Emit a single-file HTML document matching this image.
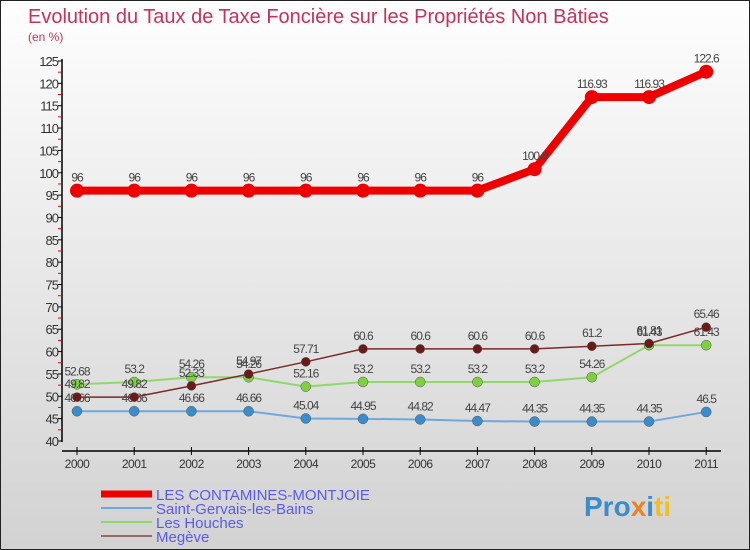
<!DOCTYPE html>
<html><head><meta charset="utf-8"><style>
body{margin:0;}
#c{width:750px;height:550px;position:relative;background:linear-gradient(#fefefe,#d2d2d2);border:1px solid #222;box-sizing:border-box;overflow:hidden;font-family:"Liberation Sans",sans-serif;}
</style></head><body>
<div id="c">
<svg id="s" width="750" height="550"></svg>
</div>
<script>
const years=["2000","2001","2002","2003","2004","2005","2006","2007","2008","2009","2010","2011"];
const contamines=[96,96,96,96,96,96,96,96,100.8,116.93,116.93,122.6];
const stgervais=[46.66,46.66,46.66,46.66,45.04,44.95,44.82,44.47,44.35,44.35,44.35,46.5];
const houches=[52.68,53.2,54.26,54.26,52.16,53.2,53.2,53.2,53.2,54.26,61.43,61.43];
const megeve=[49.82,49.82,52.33,54.97,57.71,60.6,60.6,60.6,60.6,61.2,61.81,65.46];
const yTicks=[40,45,50,55,60,65,70,75,80,85,90,95,100,105,110,115,120,125];
const NS="http://www.w3.org/2000/svg";
const svg=document.getElementById('s');
const X=i=>76+i*57.2;
const Y=v=>440-(v-40)*380/85;
function mk(t,a,p){const e=document.createElementNS(NS,t);for(const k in a)e.setAttribute(k,a[k]);(p||svg).appendChild(e);return e;}
let t=mk('text',{x:27,y:22,'font-size':20,fill:'#c8325a'});t.textContent="Evolution du Taux de Taxe Foncière sur les Propriétés Non Bâties";


t=mk('text',{x:27,y:40,'font-size':12,fill:'#c8325a'});t.textContent="(en %)";


let ax=mk('line',{x1:61,y1:58,x2:61,y2:441,stroke:'#000','stroke-width':1.5});


ax=mk('line',{x1:61,y1:450,x2:720,y2:450,stroke:'#000','stroke-width':1.5});


yTicks.forEach((v,i)=>{
 mk('line',{x1:57,y1:Y(v),x2:61,y2:Y(v),stroke:'#000'});
 if(i<yTicks.length-1) mk('line',{x1:57,y1:Y(v+2.5),x2:61,y2:Y(v+2.5),stroke:'#e00'});
 const l=mk('text',{x:57,y:Y(v)+5,'font-size':13,fill:'#333','text-anchor':'end','letter-spacing':'-1'});l.textContent=v;
 
 
});
years.forEach((y,i)=>{
 mk('line',{x1:X(i),y1:446,x2:X(i),y2:454,stroke:'#000'});
 const l=mk('text',{x:X(i),y:467,'font-size':12,fill:'#333','text-anchor':'middle','letter-spacing':'-0.5'});l.textContent=y;
 
 
});
function series(data,color,w,r,dot,name){
 const g=mk('g',{});
 
 
 mk('polyline',{points:data.map((v,i)=>X(i)+','+Y(v)).join(' '),fill:'none',stroke:color,'stroke-width':w,'stroke-linejoin':'round'},g);
 data.forEach((v,i)=>{
  const c=mk('circle',{cx:X(i),cy:Y(v),r:r,fill:dot,stroke:w>3?'none':'#555','stroke-width':0.5},g);
  
  
  const l=mk('text',{x:X(i),y:Y(v)-9,'font-size':12,fill:'#444','text-anchor':'middle','letter-spacing':'-1'},g);
  l.textContent=v;
  
  
 });
}
series(stgervais,'#6fa8dc',2,5,'#3a8ccc','saint-gervais');
series(houches,'#8fd86a',2,5,'#7ed040','les-houches');
series(megeve,'#7a2a2a',1.5,4.5,'#6b1a1a','megeve');
series(contamines,'#e00',8,7,'#e00','contamines');
const leg=[['LES CONTAMINES-MONTJOIE','#e00',7],['Saint-Gervais-les-Bains','#6fa8dc',2],['Les Houches','#8fd86a',2],['Megève','#9a6a6a',2]];
leg.forEach((e,i)=>{
 const y=493+i*14;
 const g=mk('g',{});
 
 
 mk('line',{x1:100,y1:y,x2:151,y2:y,stroke:e[1],'stroke-width':e[2]},g);
 const l=mk('text',{x:155,y:y+6,'font-size':15,fill:'#5a5aee'},g);l.textContent=e[0];
});
const p=mk('text',{x:583,y:515,'font-size':28,'font-weight':'bold',fill:'#f0a020'});


p.innerHTML='<tspan fill="#3a8ccc">Pro</tspan><tspan fill="#f08020">x</tspan><tspan fill="#3a8ccc">i</tspan><tspan fill="#f0c020">ti</tspan>';
</script>
</body></html>
